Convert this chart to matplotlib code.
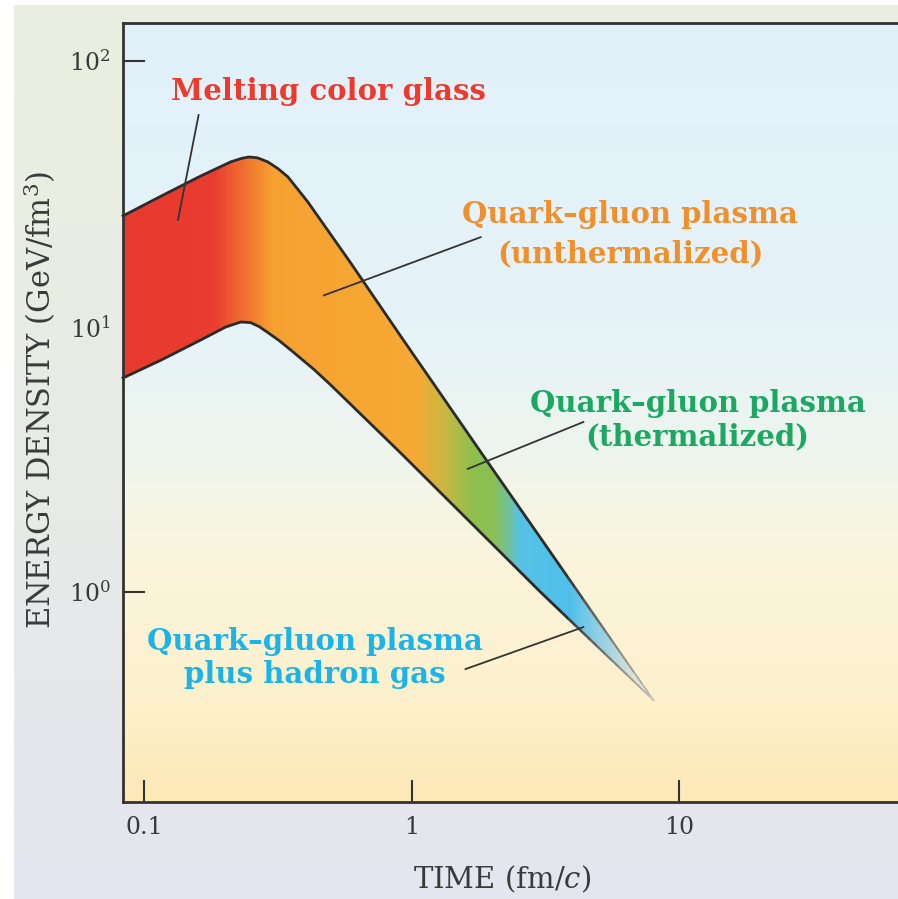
import numpy as np
import matplotlib
matplotlib.use("Agg")
import matplotlib.pyplot as plt
from matplotlib.colors import LinearSegmentedColormap, Normalize, to_rgba
from matplotlib.patches import Polygon, Rectangle

# band edges (time in fm/c, energy density in GeV/fm^3)
upper_t = [0.0835, 0.116, 0.163, 0.211, 0.232, 0.247, 0.265, 0.290, 0.317, 0.345, 0.409, 0.591, 0.910, 1.94, 8.0]
upper_e = [26.1, 31.0, 36.9, 41.7, 43.0, 43.5, 43.2, 41.7, 39.3, 36.6, 29.5, 17.4, 9.20, 3.05, 0.392]
lower_t = [0.0835, 0.116, 0.163, 0.202, 0.230, 0.250, 0.269, 0.290, 0.320, 0.354, 0.431, 0.498, 0.910, 3.03, 8.0]
lower_e = [6.40, 7.48, 8.90, 9.96, 10.4, 10.35, 10.0, 9.50, 8.85, 8.15, 6.90, 6.03, 3.34, 1.0, 0.392]

# colour along the band (log10 of time)
band_logt = [-1.08, -0.743, -0.519, 0.015, 0.127, 0.220, 0.313, 0.414, 0.593, 0.761, 0.903]
band_cols = ["#e8392f", "#e93b2f", "#f5a131", "#f6a934", "#c8b742", "#8fbf4c",
             "#8abf55", "#55c1e6", "#4fbfea", "#a8d4e2", "#e6e2d2"]
band_alpha = [1, 1, 1, 1, 1, 1, 1, 1, 1, 0.9, 0.35]

labels = ["Melting color glass", "Quark\u2013gluon plasma\n(unthermalized)",
          "Quark\u2013gluon plasma\n(thermalized)", "Quark\u2013gluon plasma\nplus hadron gas"]
label_cols = ["#ec3b2c", "#f0902c", "#1ca862", "#1ab4e8"]
label_pos = [(0.490, 71.3), (6.56, 24.5), (11.7, 4.77), (0.435, 0.605)]
line_gap = [1.0, 1.40, 1.333, 1.333]  # ratio between baselines of the two lines
leader_from = [(0.160, 62.6), (1.81, 21.7), (4.38, 4.37), (1.59, 0.513)]
leader_to = [(0.134, 25.2), (0.470, 13.1), (1.62, 2.91), (4.38, 0.738)]

xticks = [0.1, 1, 10]
xticklabels = ["0.1", "1", "10"]
yticks = [1, 10, 100]
yticklabels = ["$10^{0}$", "$10^{1}$", "$10^{2}$"]

plt.rcParams["font.family"] = "DejaVu Serif"
plt.rcParams["mathtext.fontset"] = "dejavuserif"

W, H = 898, 899
fig = plt.figure(figsize=(W / 100, H / 100), dpi=100)
fig.patch.set_facecolor("white")

# outer panel with soft vertical gradient
bg = fig.add_axes([14 / W, 0, 1 - 14 / W, 1 - 5 / H], zorder=-5)
bg.axis("off")
bg_cmap = LinearSegmentedColormap.from_list("outer", ["#e5e5f0", "#e8ebe6", "#eaf0e0"])
bg.imshow(np.linspace(0, 1, 256)[::-1].reshape(-1, 1), cmap=bg_cmap, aspect="auto",
          extent=[0, 1, 0, 1])

ax = fig.add_axes([123 / W, (H - 802) / H, (W - 123) / W, (802 - 23) / H])
ax.set_xscale("log")
ax.set_yscale("log")

# plot background gradient (blue at top, pale yellow at bottom)
ax_cmap = LinearSegmentedColormap.from_list(
    "inner", [(0.0, "#fde8b6"), (0.131, "#fdf1cc"), (0.311, "#fbf5dd"),
              (0.452, "#eef5ee"), (0.606, "#e6f3f8"), (1.0, "#e1f1fb")])
ax.imshow(np.linspace(0, 1, 256)[::-1].reshape(-1, 1), cmap=ax_cmap, aspect="auto",
          extent=[0, 1, 0, 1], transform=ax.transAxes, zorder=0)

# band filled with a horizontal colour gradient
pts = list(zip(upper_t, upper_e)) + list(zip(lower_t, lower_e))[::-1]
band = Polygon(pts, closed=True, transform=ax.transData, facecolor="none", edgecolor="none")
ax.add_patch(band)
pos = [(v - band_logt[0]) / (band_logt[-1] - band_logt[0]) for v in band_logt]
band_rgba = [to_rgba(c, a) for c, a in zip(band_cols, band_alpha)]
band_cmap = LinearSegmentedColormap.from_list("band", list(zip(pos, band_rgba)))
xe = np.logspace(band_logt[0], band_logt[-1], 500)
xc = np.sqrt(xe[:-1] * xe[1:])
mesh = ax.pcolormesh(xe, [0.2, 60], np.log10(xc).reshape(1, -1), cmap=band_cmap,
                     norm=Normalize(band_logt[0], band_logt[-1]), shading="flat", zorder=2)
mesh.set_clip_path(band)

# edges: dark, turning pale towards the tip
cuts = np.logspace(np.log10(3.6), np.log10(8.2), 14)
edge_dark = np.array(to_rgba("#2b2b2b"))
edge_pale = np.array(to_rgba("#c9c6bc"))
for t_edge, e_edge in [(upper_t, upper_e), (lower_t, lower_e)]:
    ln, = ax.plot(t_edge, e_edge, color="#2b2b2b", lw=2.0, zorder=3, solid_joinstyle="round")
    ln.set_clip_path(Rectangle((0.01, 0.01), cuts[0] - 0.01, 1000, transform=ax.transData))
    for k in range(len(cuts) - 1):
        f = (k + 0.5) / (len(cuts) - 1)
        seg, = ax.plot(t_edge, e_edge, color=edge_dark * (1 - f) + edge_pale * f,
                       lw=2.0 - 0.8 * f, zorder=3)
        seg.set_clip_path(Rectangle((cuts[k], 0.01), cuts[k + 1] - cuts[k], 1000,
                                    transform=ax.transData))

# leader lines and labels
for i, text in enumerate(labels):
    ax.plot([leader_from[i][0], leader_to[i][0]], [leader_from[i][1], leader_to[i][1]],
            color="#333333", lw=1.3, zorder=5)
    x, y = label_pos[i]
    for k, part in enumerate(text.split("\n")):
        ax.text(x, y / line_gap[i] ** k, part, color=label_cols[i], fontsize=21,
                fontweight="bold", ha="center", va="baseline", zorder=6)

ax.set_xlim(0.0835, 65.6)
ax.set_ylim(0.162, 139)
ax.set_xticks(xticks)
ax.set_xticklabels(xticklabels)
ax.set_yticks(yticks)
ax.set_yticklabels(yticklabels)
ax.minorticks_off()
ax.tick_params(direction="in", length=16, width=1.5, color="#333333", labelsize=17,
               labelcolor="#3a3a3a")
ax.tick_params(axis="x", pad=10)
ax.tick_params(axis="y", pad=9)
for side in ["left", "bottom", "top"]:
    ax.spines[side].set_linewidth(2.0)
    ax.spines[side].set_color("#333333")
    ax.spines[side].set_zorder(7)
ax.spines["right"].set_visible(False)

fig.text(502 / W, 1 - 879 / H, "TIME (fm/$c$)", fontsize=21, color="#3a3a3a",
         ha="center", va="center")
fig.text(40 / W, 1 - 400 / H, "ENERGY DENSITY (GeV/fm$^3$)", fontsize=22,
         color="#3a3a3a", ha="center", va="center", rotation=90)

fig.savefig("out.png", dpi=100)
